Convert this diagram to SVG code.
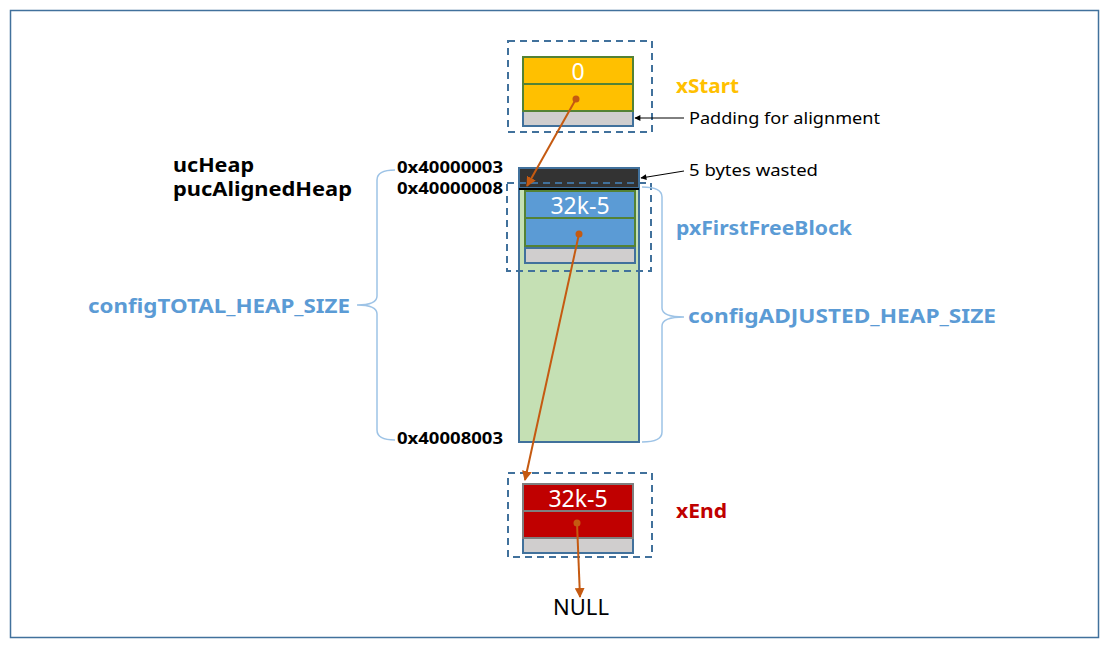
<svg xmlns="http://www.w3.org/2000/svg" width="1107" height="646" viewBox="0 0 1107 646">
<defs>
<style>
.dash{fill:none;stroke:#41719C;stroke-width:2;stroke-dasharray:7,5}
.lbl{font-family:"Noto Sans","Open Sans",sans-serif;font-weight:bold}
.reg{font-family:"Noto Sans","Open Sans",sans-serif}
.brace{fill:none;stroke:#9DC3E6;stroke-width:1.5}
.ptr{stroke:#C55A11;stroke-width:2;fill:none}
.blk{stroke:#000;stroke-width:1;fill:none}
</style>
<marker id="oa" viewBox="0 0 10 10" refX="9" refY="5" markerWidth="5" markerHeight="5" orient="auto"><path d="M0,0L10,5L0,10z" fill="#C55A11"/></marker>
<marker id="ba" viewBox="0 0 10 10" refX="9" refY="5" markerWidth="8" markerHeight="6" orient="auto"><path d="M0,0L10,5L0,10z" fill="#000"/></marker>
</defs>
<rect x="0" y="0" width="1107" height="646" fill="#fff"/>
<rect x="10.5" y="10.5" width="1088" height="627" fill="none" stroke="#41719C" stroke-width="1.5"/>

<g id="heap">
<rect x="519" y="168" width="120" height="274" fill="#C5E0B4" stroke="#41719C" stroke-width="2"/>
<rect x="519" y="168" width="120" height="20" fill="#333333" stroke="#41719C" stroke-width="2"/>
<line x1="519" y1="189" x2="639" y2="189" stroke="#000" stroke-width="2"/>
</g>

<g id="xStart">
<rect x="508" y="41" width="144" height="91" class="dash"/>
<rect x="523" y="111" width="110" height="15" fill="#D0CECE" stroke="#41719C" stroke-width="2"/>
<rect x="523" y="57" width="110" height="27" fill="#FFC000" stroke="#548235" stroke-width="2"/>
<rect x="523" y="84" width="110" height="27" fill="#FFC000" stroke="#548235" stroke-width="2"/>
<text x="578" y="80" font-size="23" fill="#fff" text-anchor="middle" class="reg">0</text>
<text x="676" y="93" font-size="19" fill="#FFC000" class="lbl" textLength="63" lengthAdjust="spacingAndGlyphs">xStart</text>
</g>

<g id="pxFirstFreeBlock">
<rect x="507" y="183" width="144" height="88" class="dash"/>
<rect x="525" y="248" width="110" height="15" fill="#D0CECE" stroke="#41719C" stroke-width="2"/>
<rect x="525" y="191" width="110" height="27" fill="#5B9BD5" stroke="#548235" stroke-width="2"/>
<rect x="525" y="218" width="110" height="28" fill="#5B9BD5" stroke="#548235" stroke-width="2"/>
<text x="580" y="214" font-size="23" fill="#fff" text-anchor="middle" class="reg">32k-5</text>
<text x="676" y="235" font-size="20" fill="#5B9BD5" class="lbl" textLength="176" lengthAdjust="spacingAndGlyphs">pxFirstFreeBlock</text>
</g>

<g id="xEnd">
<rect x="508" y="473" width="144" height="84" class="dash"/>
<rect x="523" y="538" width="110" height="15" fill="#D0CECE" stroke="#41719C" stroke-width="2"/>
<rect x="523" y="484" width="110" height="27" fill="#C00000" stroke="#7F7F7F" stroke-width="2"/>
<rect x="523" y="511" width="110" height="27" fill="#C00000" stroke="#7F7F7F" stroke-width="2"/>
<text x="578" y="507" font-size="23" fill="#fff" text-anchor="middle" class="reg">32k-5</text>
<text x="676" y="518" font-size="20" fill="#C00000" class="lbl" textLength="51" lengthAdjust="spacingAndGlyphs">xEnd</text>
</g>

<g id="labels">
<text x="173" y="172" font-size="19" fill="#000" class="lbl" textLength="81" lengthAdjust="spacingAndGlyphs">ucHeap</text>
<text x="173" y="196" font-size="19" fill="#000" class="lbl" textLength="179" lengthAdjust="spacingAndGlyphs">pucAlignedHeap</text>
<text x="397" y="173" font-size="16" fill="#000" class="lbl" textLength="106" lengthAdjust="spacingAndGlyphs">0x40000003</text>
<text x="397" y="194" font-size="16" fill="#000" class="lbl" textLength="106" lengthAdjust="spacingAndGlyphs">0x40000008</text>
<text x="397" y="444" font-size="16" fill="#000" class="lbl" textLength="106" lengthAdjust="spacingAndGlyphs">0x40008003</text>
<text x="689" y="124" font-size="17" fill="#000" class="reg" textLength="191" lengthAdjust="spacingAndGlyphs">Padding for alignment</text>
<text x="689" y="176" font-size="17" fill="#000" class="reg" textLength="129" lengthAdjust="spacingAndGlyphs">5 bytes wasted</text>
<text x="88" y="313" font-size="20" fill="#5B9BD5" class="lbl" textLength="262" lengthAdjust="spacingAndGlyphs">configTOTAL_HEAP_SIZE</text>
<text x="688" y="323" font-size="20" fill="#5B9BD5" class="lbl" textLength="308" lengthAdjust="spacingAndGlyphs">configADJUSTED_HEAP_SIZE</text>
<text x="581" y="615" font-size="22" fill="#000" text-anchor="middle" class="reg">NULL</text>
</g>

<g id="connectors">
<path class="brace" d="M395,170 Q377,170 377,180 L377,296 Q377,305 357,305 Q377,305 377,314 L377,430 Q377,440 395,440"/>
<path class="brace" d="M642,187 Q662,187 662,197 L662,308 Q662,317 684,317 Q662,317 662,326 L662,432 Q662,442 642,442"/>
<line class="ptr" x1="576" y1="99" x2="527" y2="186" marker-end="url(#oa)"/>
<circle cx="576" cy="99" r="3.5" fill="#C55A11"/>
<line class="ptr" x1="579" y1="234" x2="525" y2="480" marker-end="url(#oa)"/>
<circle cx="579" cy="234" r="3.5" fill="#C55A11"/>
<line class="ptr" x1="577" y1="523" x2="580" y2="597" marker-end="url(#oa)"/>
<circle cx="577" cy="523" r="3.5" fill="#C55A11"/>
<line class="blk" x1="684" y1="118" x2="635" y2="118" marker-end="url(#ba)"/>
<line class="blk" x1="684" y1="171" x2="641" y2="178" marker-end="url(#ba)"/>
</g>
</svg>
